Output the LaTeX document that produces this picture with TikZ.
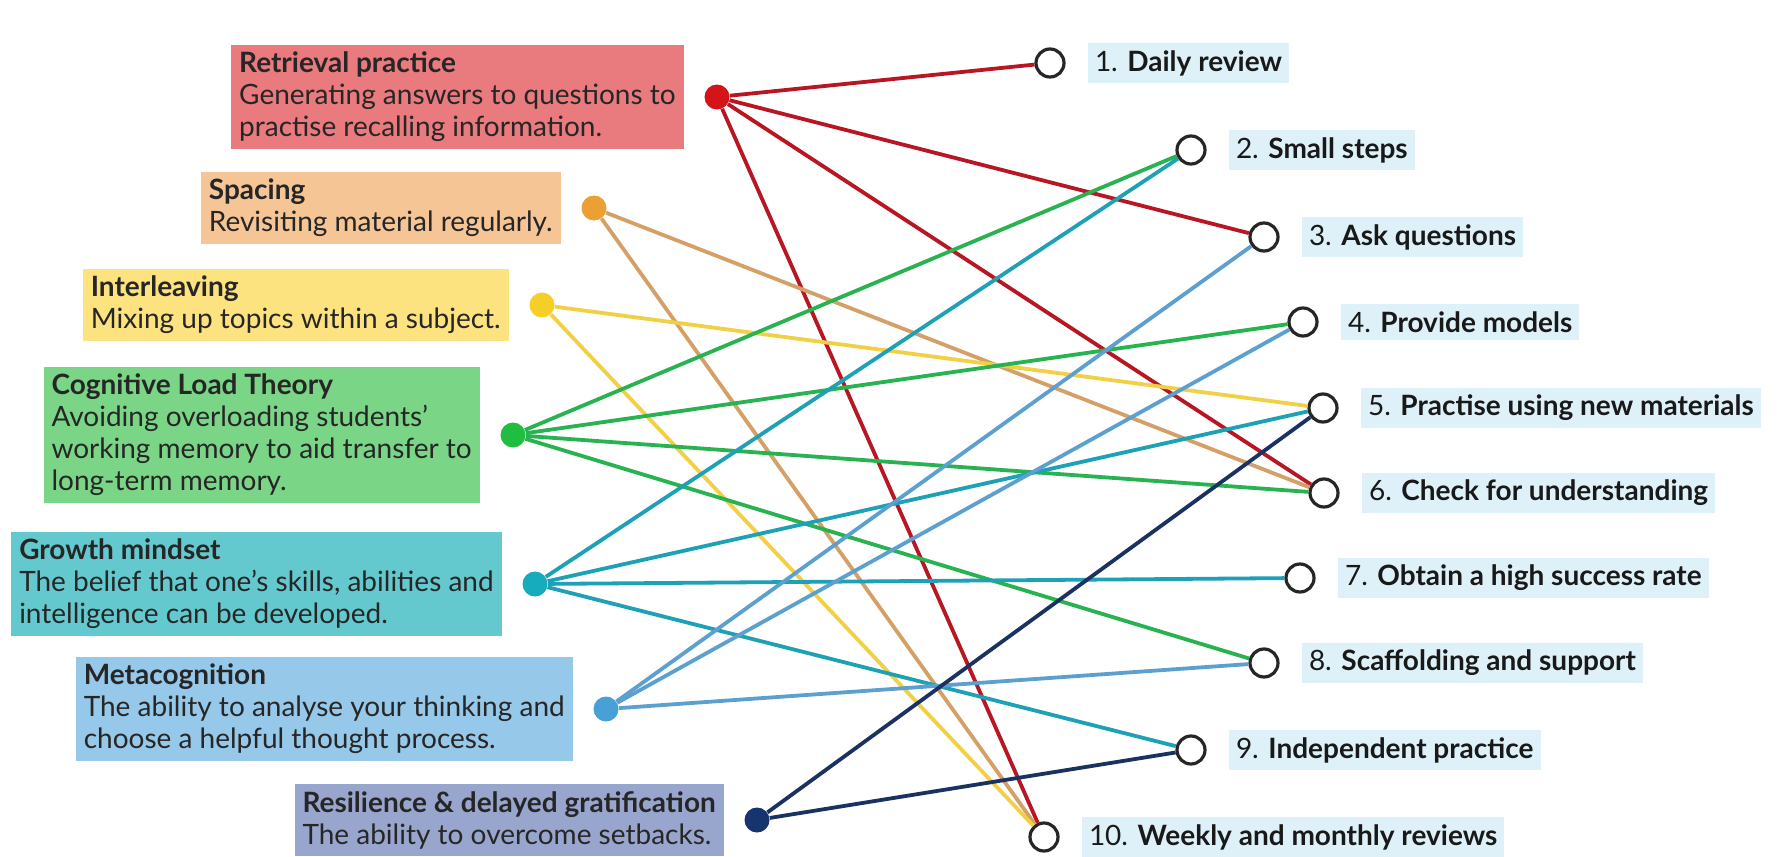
\documentclass[tikz,border=0pt]{standalone}
\usepackage{fontspec}
\setmainfont{Lato}
\usetikzlibrary{positioning}

\definecolor{rpfond}{RGB}{233,122,126}
\definecolor{spfond}{RGB}{245,197,150}
\definecolor{infond}{RGB}{253,226,128}
\definecolor{clfond}{RGB}{122,214,134}
\definecolor{grfond}{RGB}{100,201,206}
\definecolor{mefond}{RGB}{150,200,233}
\definecolor{refond}{RGB}{152,166,205}
\definecolor{rppoint}{RGB}{212,20,24}
\definecolor{sppoint}{RGB}{236,160,52}
\definecolor{inpoint}{RGB}{246,206,40}
\definecolor{clpoint}{RGB}{32,190,64}
\definecolor{grpoint}{RGB}{22,172,190}
\definecolor{mepoint}{RGB}{72,160,215}
\definecolor{repoint}{RGB}{22,52,110}
\definecolor{rpfil}{RGB}{185,22,36}
\definecolor{spfil}{RGB}{212,160,104}
\definecolor{infil}{RGB}{242,208,70}
\definecolor{clfil}{RGB}{40,178,80}
\definecolor{grfil}{RGB}{30,160,182}
\definecolor{mefil}{RGB}{92,160,208}
\definecolor{refil}{RGB}{26,50,98}
\definecolor{etiq}{RGB}{222,241,249}

\tikzset{
  boite/.style={align=left, inner xsep=4pt, inner ysep=3.5pt, text=black!85, font=\fontsize{14}{16}\selectfont},
  point/.style={circle, minimum size=12.5pt, inner sep=0pt},
  anneau/.style={circle, draw=black!85, line width=1.6pt, fill=white, minimum size=14pt, inner sep=0pt},
  etiquette/.style={fill=etiq, inner sep=3.5pt, text=black!90, font=\fontsize{14}{16}\selectfont},
  lien/.style={line width=1.9pt}
}

\begin{document}
\begin{tikzpicture}[x=0.5pt,y=0.5pt,node distance=10pt]
\useasboundingbox (0,0) rectangle (1785,-857);

% points de depart
\node[point, fill=rppoint] (pRP) at (717,-97) {};
\node[point, fill=sppoint] (pSP) at (594,-208) {};
\node[point, fill=inpoint] (pIN) at (542,-305) {};
\node[point, fill=clpoint] (pCL) at (513,-435) {};
\node[point, fill=grpoint] (pGR) at (535,-584) {};
\node[point, fill=mepoint] (pME) at (606,-709) {};
\node[point, fill=repoint] (pRE) at (757,-820) {};

% cercles
\node[anneau] (c1) at (1050,-63) {};
\node[anneau] (c2) at (1191,-150) {};
\node[anneau] (c3) at (1264,-237) {};
\node[anneau] (c4) at (1303,-322) {};
\node[anneau] (c5) at (1323,-408) {};
\node[anneau] (c6) at (1324,-493) {};
\node[anneau] (c7) at (1300,-578) {};
\node[anneau] (c8) at (1264,-663) {};
\node[anneau] (c9) at (1191,-750) {};
\node[anneau] (c10) at (1044,-837) {};

% boites a gauche
\node[boite, fill=rpfond, left=of pRP] (bRP) {\textbf{Retrieval practice}\\Generating answers to questions to\\practise recalling information.};
\node[boite, fill=spfond, left=of pSP] (bSP) {\textbf{Spacing}\\Revisiting material regularly.};
\node[boite, fill=infond, left=of pIN] (bIN) {\textbf{Interleaving}\\Mixing up topics within a subject.};
\node[boite, fill=clfond, left=of pCL] (bCL) {\textbf{Cognitive Load Theory}\\Avoiding overloading students'\\working memory to aid transfer to\\long-term memory.};
\node[boite, fill=grfond, left=of pGR] (bGR) {\textbf{Growth mindset}\\The belief that one's skills, abilities and\\intelligence can be developed.};
\node[boite, fill=mefond, left=of pME] (bME) {\textbf{Metacognition}\\The ability to analyse your thinking and\\choose a helpful thought process.};
\node[boite, fill=refond, left=of pRE] (bRE) {\textbf{Resilience \& delayed gratification}\\The ability to overcome setbacks.};

% etiquettes a droite
\node[etiquette, right=11pt of c1] (t1) {1. \textbf{Daily review}};
\node[etiquette, right=11pt of c2] (t2) {2. \textbf{Small steps}};
\node[etiquette, right=11pt of c3] (t3) {3. \textbf{Ask questions}};
\node[etiquette, right=11pt of c4] (t4) {4. \textbf{Provide models}};
\node[etiquette, right=11pt of c5] (t5) {5. \textbf{Practise using new materials}};
\node[etiquette, right=11pt of c6] (t6) {6. \textbf{Check for understanding}};
\node[etiquette, right=11pt of c7] (t7) {7. \textbf{Obtain a high success rate}};
\node[etiquette, right=11pt of c8] (t8) {8. \textbf{Scaffolding and support}};
\node[etiquette, right=11pt of c9] (t9) {9. \textbf{Independent practice}};
\node[etiquette, right=11pt of c10] (t10) {10. \textbf{Weekly and monthly reviews}};

% liaisons
\foreach \c in {1,3,6,10} \draw[lien, rpfil] (pRP) -- (c\c);
\foreach \c in {6,10} \draw[lien, spfil] (pSP) -- (c\c);
\foreach \c in {5,10} \draw[lien, infil] (pIN) -- (c\c);
\foreach \c in {2,4,6,8} \draw[lien, clfil] (pCL) -- (c\c);
\foreach \c in {2,5,7,9} \draw[lien, grfil] (pGR) -- (c\c);
\foreach \c in {3,4,8} \draw[lien, mefil] (pME) -- (c\c);
\foreach \c in {5,9} \draw[lien, refil] (pRE) -- (c\c);

\end{tikzpicture}
\end{document}
